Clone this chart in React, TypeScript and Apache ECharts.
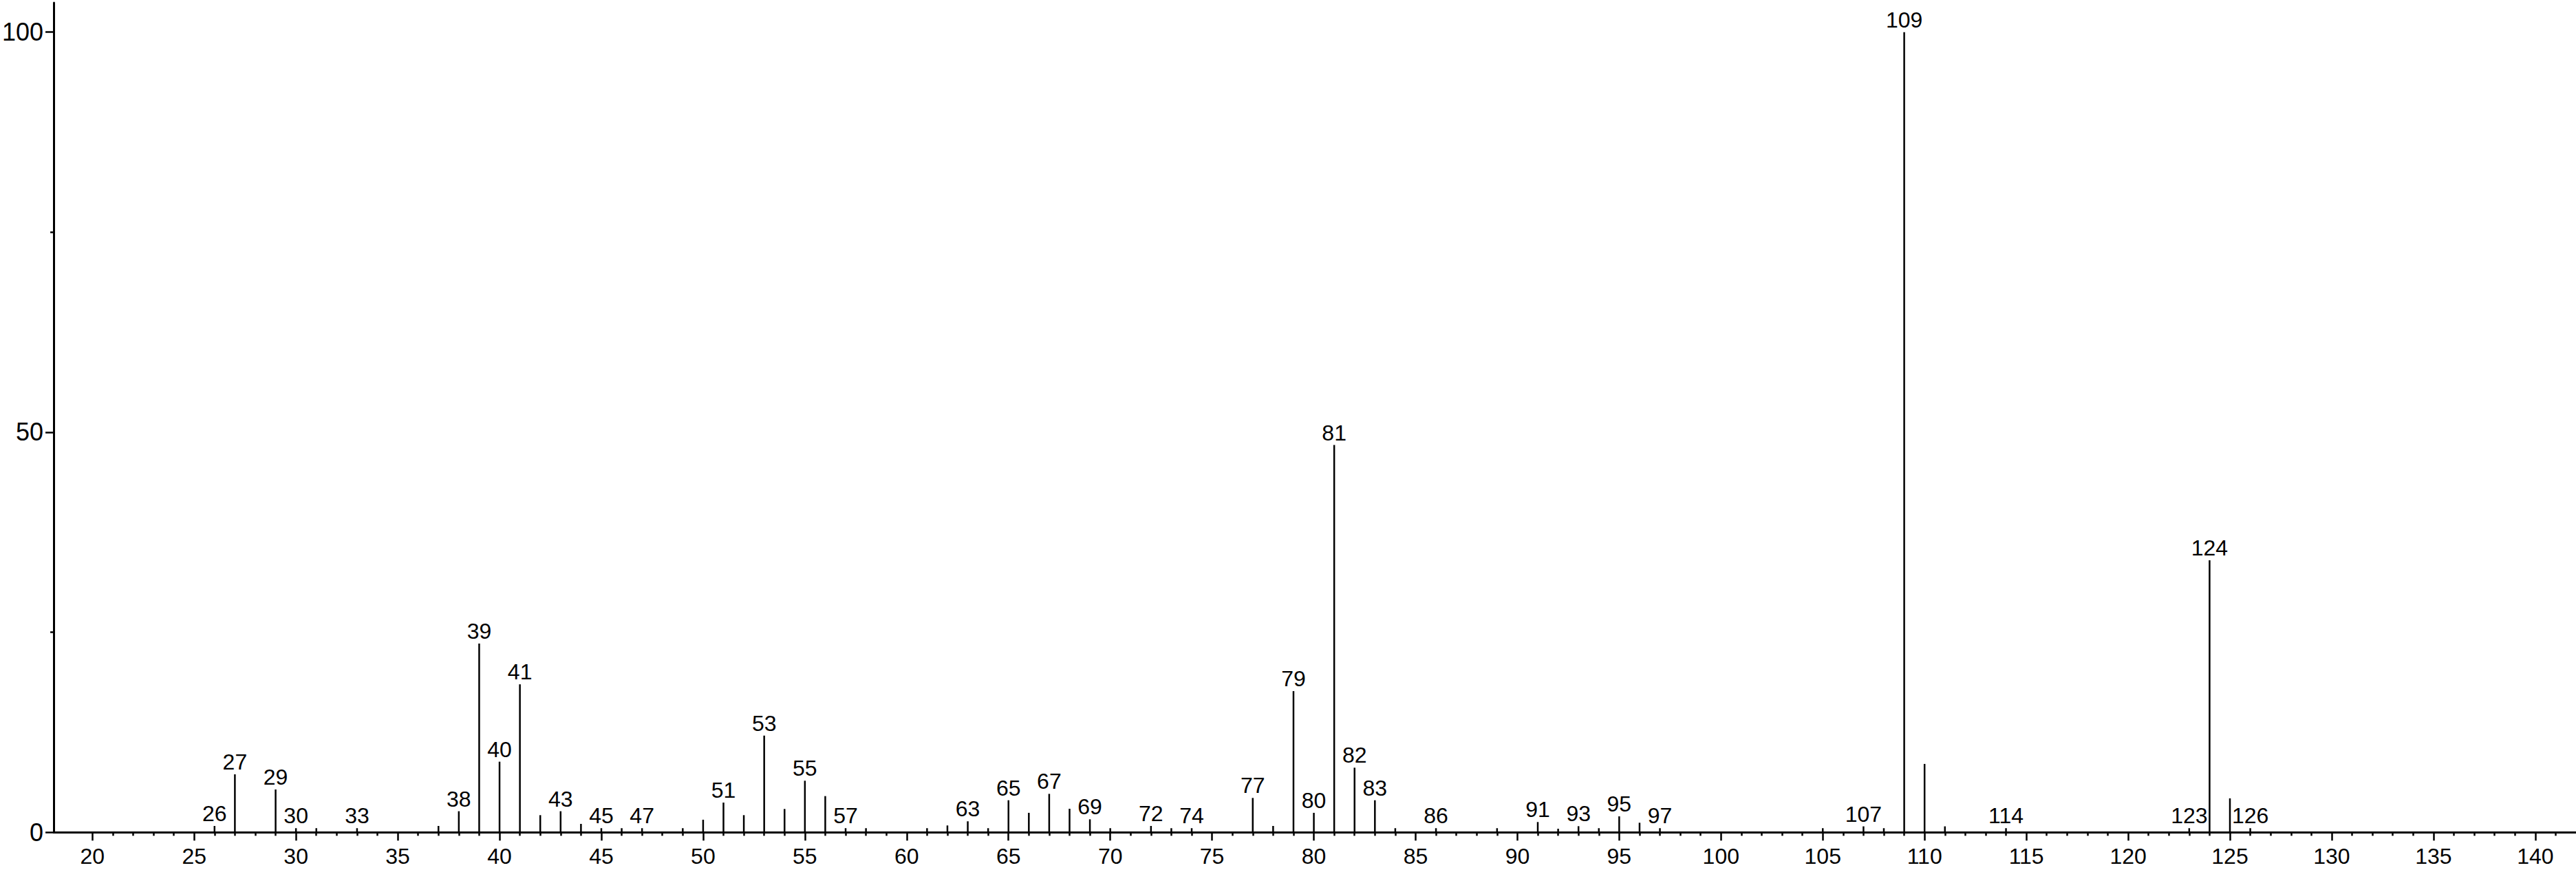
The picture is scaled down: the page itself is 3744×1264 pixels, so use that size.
import React, { useEffect, useRef } from "react";
import * as echarts from "echarts";

// m/z of each peak
const mzValues = [
  26, 27, 29, 30, 31, 33, 37, 38, 39, 40, 41, 42, 43, 44, 45, 46, 47, 49, 50, 51,
  52, 53, 54, 55, 56, 57, 58, 61, 62, 63, 64, 65, 66, 67, 68, 69, 70, 72, 73, 74,
  77, 78, 79, 80, 81, 82, 83, 84, 86, 89, 91, 92, 93, 94, 95, 96, 97, 105, 107, 108,
  109, 110, 111, 114, 123, 124, 125, 126,
];
// relative intensity (%)
const intensities = [
  0.8, 7.25, 5.36, 0.52, 0.52, 0.52, 0.8, 2.64, 23.6, 8.83, 18.5, 2.15, 2.64, 1.06, 0.52, 0.52, 0.52, 0.52, 1.58, 3.72,
  2.15, 12.09, 2.92, 6.45, 4.53, 0.52, 0.52, 0.52, 0.86, 1.38, 0.52, 4.01, 2.44, 4.81, 2.95, 1.63, 0.52, 0.8, 0.52, 0.52,
  4.3, 0.8, 17.65, 2.44, 48.4, 8.08, 4.01, 0.52, 0.52, 0.52, 1.29, 0.45, 0.77, 0.52, 2.0, 1.2, 0.52, 0.52, 0.75, 0.52,
  100, 8.55, 0.75, 0.52, 0.52, 34.0, 4.25, 0.52,
];
// peaks that carry an m/z label
const labeledMz = [
  26, 27, 29, 30, 33, 38, 39, 40, 41, 43, 45, 47, 51, 53, 55, 57, 63, 65, 67, 69,
  72, 74, 77, 79, 80, 81, 82, 83, 86, 91, 93, 95, 97, 107, 109, 114, 123, 124, 126,
];
// axis ticks
const xTickLabels = [20, 25, 30, 35, 40, 45, 50, 55, 60, 65, 70, 75, 80, 85, 90, 95, 100, 105, 110, 115, 120, 125, 130, 135, 140];
const yTickLabels = [0, 50, 100];
const yMinorTicks = [25, 75];

const X_MIN = 18.1;
const X_MAX = 142;
const Y_MAX = 103.67;
const FONT = '"Liberation Sans", Arial, Helvetica, sans-serif';

export default function App() {
  const ref = useRef<HTMLDivElement>(null);

  useEffect(() => {
    document.body.style.margin = "0";
    if (!ref.current) return;
    const chart = echarts.init(ref.current, undefined, { renderer: "svg" });

    const xMinorTicks: number[] = [];
    for (let v = 21; v <= 141; v++) if (v % 5 !== 0) xMinorTicks.push(v);

    const data = mzValues.map((m, i) => ({
      value: [m, intensities[i]],
      label: { show: labeledMz.includes(m) },
    }));

    const grid = { left: 68, top: 4, width: 3678.6, height: 1205.3 };

    chart.setOption({
      animation: false,
      backgroundColor: "#ffffff",
      grid,
      xAxis: [
        {
          type: "value",
          min: X_MIN,
          max: X_MAX,
          position: "bottom",
          splitLine: { show: false },
          axisLine: { show: true, onZero: false, lineStyle: { color: "#000", width: 3 } },
          axisTick: {
            show: true,
            customValues: xTickLabels,
            length: 12,
            inside: false,
            lineStyle: { color: "#000", width: 2.5 },
          },
          axisLabel: {
            show: true,
            customValues: xTickLabels,
            margin: 19,
            fontSize: 32,
            fontFamily: FONT,
            color: "#000",
          },
        },
        {
          type: "value",
          min: X_MIN,
          max: X_MAX,
          position: "bottom",
          splitLine: { show: false },
          axisLine: { show: false, onZero: false },
          axisTick: {
            show: true,
            customValues: xMinorTicks,
            length: 5,
            inside: false,
            lineStyle: { color: "#000", width: 2.5 },
          },
          axisLabel: { show: false },
        },
      ],
      yAxis: [
        {
          type: "value",
          min: 0,
          max: Y_MAX,
          position: "left",
          splitLine: { show: false },
          axisLine: { show: true, onZero: false, lineStyle: { color: "#000", width: 3 } },
          axisTick: {
            show: true,
            customValues: yTickLabels,
            length: 12,
            lineStyle: { color: "#000", width: 2.5 },
          },
          axisLabel: {
            show: true,
            customValues: yTickLabels,
            margin: 15,
            fontSize: 36,
            fontFamily: FONT,
            color: "#000",
            padding: [11, 0, 0, 0],
          },
        },
        {
          type: "value",
          min: 0,
          max: Y_MAX,
          position: "left",
          splitLine: { show: false },
          axisLine: { show: false, onZero: false },
          axisTick: {
            show: true,
            customValues: yMinorTicks,
            length: 5,
            lineStyle: { color: "#000", width: 2.5 },
          },
          axisLabel: { show: false },
        },
      ],
      series: [
        {
          type: "bar",
          xAxisIndex: 0,
          yAxisIndex: 0,
          barWidth: 2.5,
          itemStyle: { color: "#000" },
          label: {
            show: false,
            position: "top",
            distance: 2,
            fontSize: 32,
            fontFamily: FONT,
            color: "#000",
            formatter: (p: any) => String(p.value[0]),
          },
          data,
        },
      ],
    });

    return () => chart.dispose();
  }, []);

  return <div ref={ref} style={{ width: 3744, height: 1264 }} />;
}
